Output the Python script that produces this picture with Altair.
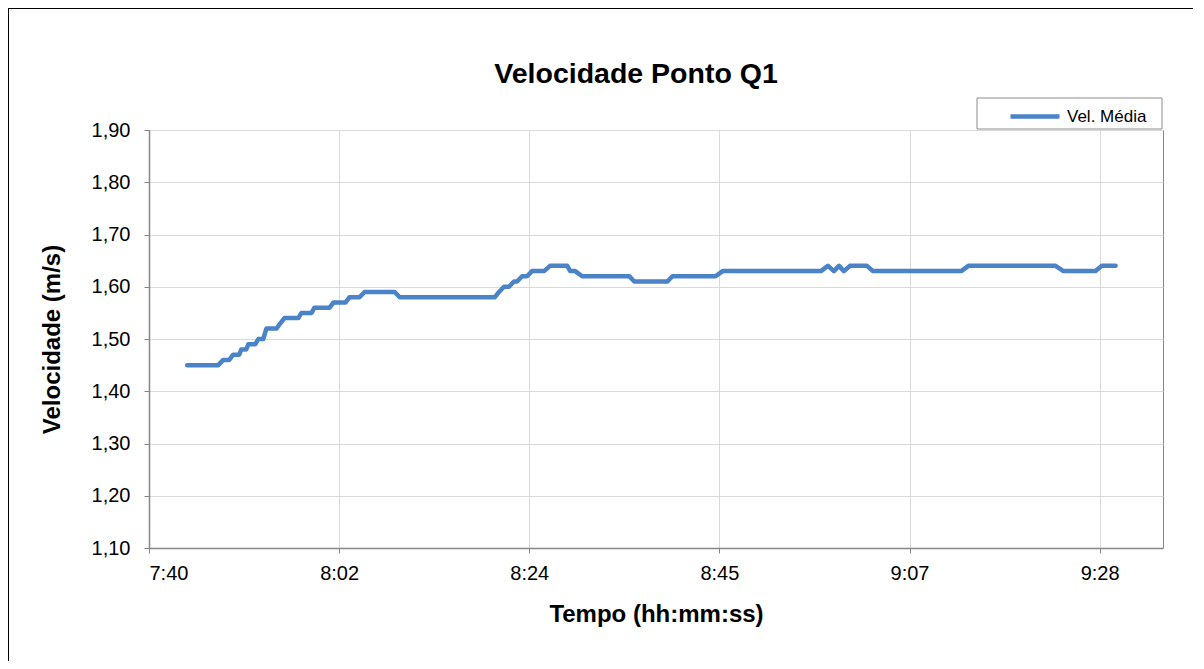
import altair as alt
import pandas as pd

# ---- data ----
times = [
    "7:45:08", "7:48:40", "7:49:14", "7:49:55", "7:50:22", "7:51:03", "7:51:17", "7:51:51",
    "7:52:05", "7:52:53", "7:53:13", "7:53:47", "7:54:08", "7:55:16", "7:56:11", "7:57:46",
    "7:58:07", "7:59:16", "7:59:36", "8:01:19", "8:01:46", "8:03:08", "8:03:35", "8:04:43",
    "8:05:17", "8:08:43", "8:09:17", "8:20:06", "8:20:34", "8:21:08", "8:21:42", "8:22:16",
    "8:22:37", "8:23:11", "8:23:45", "8:24:19", "8:25:41", "8:26:22", "8:28:19", "8:28:39",
    "8:29:13", "8:30:01", "8:35:22", "8:35:56", "8:39:42", "8:40:16", "8:45:10", "8:45:58",
    "8:57:08", "8:57:56", "8:58:37", "8:59:11", "8:59:45", "9:00:26", "9:02:22", "9:03:03",
    "9:13:05", "9:13:53", "9:23:47", "9:24:42", "9:28:20", "9:29:02", "9:30:37",
]
velocity = [
    1.45, 1.45, 1.46, 1.46, 1.47, 1.47, 1.48, 1.48,
    1.49, 1.49, 1.50, 1.50, 1.52, 1.52, 1.54, 1.54,
    1.55, 1.55, 1.56, 1.56, 1.57, 1.57, 1.58, 1.58,
    1.59, 1.59, 1.58, 1.58, 1.59, 1.60, 1.60, 1.61,
    1.61, 1.62, 1.62, 1.63, 1.63, 1.64, 1.64, 1.63,
    1.63, 1.62, 1.62, 1.61, 1.61, 1.62, 1.62, 1.63,
    1.63, 1.64, 1.63, 1.64, 1.63, 1.64, 1.64, 1.63,
    1.63, 1.64, 1.64, 1.63, 1.63, 1.64, 1.64,
]
series_name = "Vel. Média"
x_ticks = [460.8, 482.4, 504.0, 525.6, 547.2, 568.8]   # minutes since midnight (Excel 0.32 .. 0.395 day)
x_domain = [460.8, 576.0]
y_ticks = [1.10, 1.20, 1.30, 1.40, 1.50, 1.60, 1.70, 1.80, 1.90]
y_domain = [1.10, 1.90]

title_text = "Velocidade Ponto Q1"
x_title = "Tempo (hh:mm:ss)"
y_title = "Velocidade (m/s)"


def to_minutes(t):
    h, m, s = (int(p) for p in t.split(":"))
    return h * 60 + m + s / 60.0


df = pd.DataFrame({
    "minutes": [to_minutes(t) for t in times],
    "vel": velocity,
    "serie": [series_name] * len(times),
})
one = pd.DataFrame({"t": [title_text]})

FONT = "Liberation Sans"
AXIS_GRAY = "#868686"
GRID = "#d9d9d9"
LINE = "#4a83c8"

frame = alt.Chart(one).mark_rect(fill=None, stroke="black", strokeWidth=2).encode(
    x=alt.value(-141), x2=alt.value(1100), y=alt.value(-122), y2=alt.value(700)
)

legend_box = alt.Chart(one).mark_rect(fill="white", stroke="#8c8c8c", strokeWidth=1).encode(
    x=alt.value(828), x2=alt.value(1013), y=alt.value(-32), y2=alt.value(-1)
)

title = alt.Chart(one).mark_text(
    font=FONT, fontSize=28.5, fontWeight="bold", color="black", align="center", baseline="middle"
).encode(text="t:N", x=alt.value(487), y=alt.value(-56))

line = alt.Chart(df).mark_line(strokeWidth=4.5, strokeJoin="round", strokeCap="round").encode(
    x=alt.X(
        "minutes:Q",
        scale=alt.Scale(domain=x_domain, nice=False, zero=False),
        axis=alt.Axis(
            values=x_ticks,
            title=x_title,
            labelExpr="floor(datum.value/60) + ':' + (floor(datum.value%60) < 10 ? '0' : '') + floor(datum.value%60)",
            tickSize=5,
            labelPadding=10,
            titlePadding=19,
        ),
    ),
    y=alt.Y(
        "vel:Q",
        scale=alt.Scale(domain=y_domain, nice=False, zero=False),
        axis=alt.Axis(
            values=y_ticks,
            title=y_title,
            labelExpr="replace(format(datum.value, '.2f'), '.', ',')",
            tickSize=5,
            labelPadding=14,
            titlePadding=27,
        ),
    ),
    color=alt.Color(
        "serie:N",
        scale=alt.Scale(range=[LINE]),
        legend=alt.Legend(
            title=None,
            orient="none",
            legendX=859,
            legendY=-40.5,
            symbolType="stroke",
            symbolSize=2401,
            symbolStrokeWidth=4.5,
            labelOffset=5,
            labelFont=FONT,
            labelFontSize=17,
            labelColor="black",
            padding=0,
        ),
    ),
)

chart = alt.layer(frame, legend_box, line, title).properties(
    width=1014,
    height=418,
    padding={"left": 141, "top": 122, "right": 30, "bottom": 113},
    autosize=alt.AutoSizeParams(type="none"),
).configure(
    font=FONT,
    background="white",
).configure_view(
    stroke=AXIS_GRAY, strokeWidth=1
).configure_axis(
    labelFont=FONT,
    labelFontSize=20,
    labelColor="black",
    titleFont=FONT,
    titleFontSize=24,
    titleFontWeight="bold",
    titleColor="black",
    domainColor=AXIS_GRAY,
    domainWidth=1.5,
    tickColor=AXIS_GRAY,
    gridColor=GRID,
    gridWidth=1,
)

chart.save("out.html", embed_options={"renderer": "svg", "actions": False})
